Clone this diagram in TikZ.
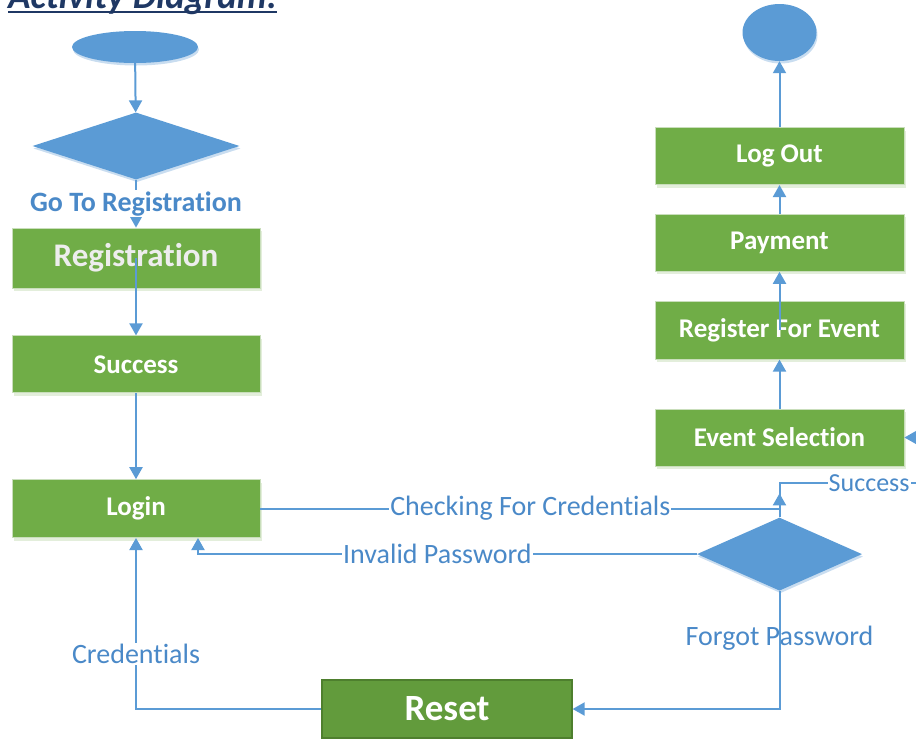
\documentclass[tikz,border=0pt]{standalone}
\usepackage{fontspec}
\setmainfont{Carlito}[Ligatures={NoCommon}]
\usepackage{tikz}
\usetikzlibrary{shapes.geometric,arrows.meta,positioning,calc,shadows}
\definecolor{boxgreen}{HTML}{70AD47}
\definecolor{boxedge}{HTML}{C9DEBB}
\definecolor{shadegreen}{HTML}{E3EEDB}
\definecolor{resetgreen}{HTML}{629B3C}
\definecolor{resetedge}{HTML}{4E7F2E}
\definecolor{flowblue}{HTML}{5B9BD5}
\definecolor{shadeblue}{HTML}{C9DDF0}
\definecolor{textblue}{HTML}{4A89C8}
\definecolor{titleblue}{HTML}{1F3864}

\begin{document}
\begin{tikzpicture}[
    x=1pt, y=1pt,
    node distance=29pt,
    action/.style={rectangle, draw=boxedge, line width=0.8pt, fill=boxgreen, text=white, font=\bfseries\fontsize{27}{30}\selectfont, minimum width=248pt, minimum height=57pt, drop shadow={shadow xshift=1.5pt, shadow yshift=-3pt, fill=shadegreen, opacity=1}},
    resetbox/.style={rectangle, draw=resetedge, line width=1.2pt, fill=resetgreen, text=white, font=\bfseries\fontsize{37}{40}\selectfont, minimum width=250pt, minimum height=58pt},
    startstop/.style={ellipse, fill=flowblue, inner sep=0pt, drop shadow={shadow xshift=1pt, shadow yshift=-2.5pt, fill=shadeblue, opacity=1}},
    decision/.style={diamond, fill=flowblue, inner sep=0pt, drop shadow={shadow xshift=1pt, shadow yshift=-2.5pt, fill=shadeblue, opacity=1}},
    lbl/.style={text=textblue, font=\fontsize{28}{32}\selectfont, fill=white, inner sep=1pt},
    link/.style={draw=flowblue, line width=2pt},
    arrow/.style={link, -{Triangle[width=13pt, length=12pt]}}
]
\useasboundingbox (0,0) rectangle (916,-740);

% Title
\node[anchor=base west, text=titleblue, font=\bfseries\itshape\fontsize{37}{40}\selectfont, inner sep=0pt] (title) at (8,-8) {Activity Diagram:};
\draw[titleblue, line width=1.8pt] ([yshift=-4pt]title.base west) -- ([yshift=-4pt]title.base east);

% Left column
\node[startstop, minimum width=126pt, minimum height=32pt] (start_node) at (135,-47) {};
\node[decision, minimum width=207pt, minimum height=67pt] (go_dec) at (136,-146) {};
\node[action, font=\bfseries\fontsize{33}{36}\selectfont, text=white!93!black, minimum height=60pt] (reg_box) at (136,-258) {Registration};
\node[action, below=47pt of reg_box] (succ_box) {Success};
\node[action, minimum height=58pt, below=86pt of succ_box] (login_box) {Login};

% Right column
\node[action, minimum width=249pt] (ev_box) at (779.5,-437.5) {Event Selection};
\node[action, minimum width=249pt, minimum height=58pt, above=49pt of ev_box] (regev_box) {Register For Event};
\node[action, minimum width=249pt, above=29pt of regev_box] (pay_box) {Payment};
\node[action, minimum width=249pt, above=29pt of pay_box] (out_box) {Log Out};
\node[startstop, minimum width=74pt, minimum height=57pt, above=66pt of out_box] (end_node) {};

% Check and reset
\node[decision, minimum width=165pt, minimum height=73pt, below=51pt of ev_box] (check_dec) {};
\node[resetbox] (reset_box) at (447,-709) {Reset};

% Helper points
\coordinate (chk_in) at (check_dec.north |- login_box.east);
\coordinate (succ_a) at ([yshift=34pt]check_dec.north);
\coordinate (succ_b) at ([xshift=160pt]succ_a);
\coordinate (inv_pt) at ([xshift=62pt]login_box.south |- check_dec.west);

% Registration flow
\draw[arrow] (start_node) -- (go_dec);
\draw[arrow] (go_dec) -- node[lbl, font=\bfseries\fontsize{28}{32}\selectfont]{Go To Registration} (reg_box);
\draw[arrow] (reg_box.center) -- (succ_box);
\draw[arrow] (succ_box) -- (login_box);

% Login check
\draw[link] (login_box.east) -- node[lbl, pos=0.52]{Checking For Credentials} (chk_in);
\draw[arrow] (check_dec.north) -- ([yshift=24pt]check_dec.north);
\draw[arrow] (check_dec.north) -- (succ_a) -- node[lbl, font=\fontsize{26}{30}\selectfont, pos=0.56]{Success} (succ_b) |- (ev_box.east);
\draw[arrow] (check_dec.west) -- node[lbl, pos=0.52]{Invalid Password} (inv_pt) -- (inv_pt |- login_box.south);
\draw[arrow] (check_dec.south) |- node[lbl, fill=none, pos=0.2]{Forgot Password} (reset_box.east);
\draw[arrow] (reset_box.west) -| node[lbl, pos=0.66]{Credentials} (login_box.south);

% Event flow
\draw[arrow] (ev_box) -- (regev_box);
\draw[arrow] (regev_box.center) -- (pay_box);
\draw[arrow] (pay_box) -- (out_box);
\draw[arrow] (out_box) -- (end_node);

\end{tikzpicture}
\end{document}
